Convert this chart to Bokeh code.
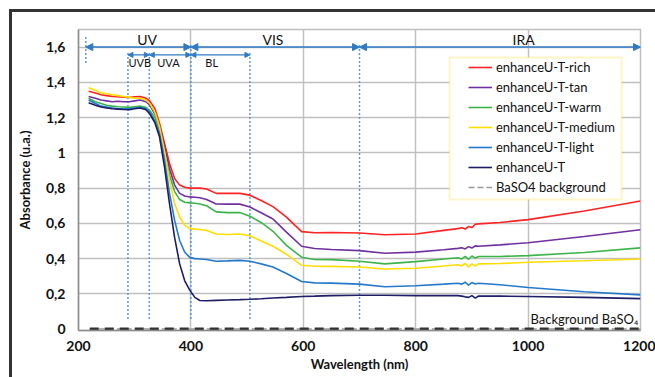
from bokeh.plotting import figure
from bokeh.models import (Range1d, FixedTicker, CustomJSTickFormatter, Legend, LegendItem,
                          Arrow, NormalHead, BoxAnnotation, Label)
from bokeh.embed import file_html
from bokeh.resources import INLINE

# ---------------- data ----------------
wavelength = [218, 230, 240, 250, 260, 270, 280, 290, 300, 310,
              320, 327, 336, 344, 353, 362, 371, 380, 389, 398,
              407, 416, 428, 445, 465, 487, 505, 525, 546, 570,
              597, 620, 650, 700, 745, 800, 850, 875, 882, 888,
              894, 900, 906, 912, 950, 1000, 1100, 1200]

rich = [1.35, 1.34, 1.33, 1.325, 1.32, 1.318, 1.316, 1.314, 1.318, 1.32,
        1.31, 1.293, 1.25, 1.17, 1.055, 0.94, 0.855, 0.817, 0.805, 0.80,
        0.80, 0.80, 0.795, 0.77, 0.77, 0.77, 0.76, 0.73, 0.695, 0.635,
        0.553, 0.547, 0.548, 0.545, 0.535, 0.54, 0.56, 0.57, 0.575, 0.568,
        0.582, 0.576, 0.595, 0.597, 0.605, 0.621, 0.67, 0.727]

tan = [1.32, 1.31, 1.30, 1.295, 1.29, 1.293, 1.29, 1.29, 1.295, 1.30,
       1.29, 1.27, 1.22, 1.15, 1.04, 0.91, 0.817, 0.77, 0.755, 0.75,
       0.748, 0.745, 0.735, 0.71, 0.709, 0.709, 0.693, 0.66, 0.625, 0.55,
       0.47, 0.457, 0.452, 0.445, 0.43, 0.437, 0.45, 0.458, 0.462, 0.455,
       0.468, 0.46, 0.472, 0.47, 0.478, 0.49, 0.525, 0.564]

warm = [1.31, 1.29, 1.28, 1.27, 1.265, 1.262, 1.26, 1.258, 1.262, 1.265,
        1.258, 1.24, 1.20, 1.13, 1.0, 0.874, 0.78, 0.735, 0.72, 0.716,
        0.714, 0.71, 0.70, 0.665, 0.661, 0.661, 0.64, 0.605, 0.555, 0.475,
        0.408, 0.395, 0.394, 0.385, 0.37, 0.383, 0.398, 0.405, 0.398, 0.413,
        0.396, 0.415, 0.403, 0.412, 0.412, 0.417, 0.435, 0.461]

medium = [1.37, 1.355, 1.34, 1.335, 1.33, 1.325, 1.32, 1.315, 1.31, 1.31,
          1.30, 1.28, 1.23, 1.15, 1.01, 0.845, 0.712, 0.636, 0.59, 0.57,
          0.567, 0.565, 0.56, 0.54, 0.537, 0.54, 0.53, 0.50, 0.47, 0.425,
          0.362, 0.357, 0.356, 0.352, 0.341, 0.345, 0.358, 0.365, 0.358, 0.373,
          0.352, 0.37, 0.358, 0.37, 0.372, 0.379, 0.388, 0.398]

light = [1.30, 1.28, 1.265, 1.26, 1.255, 1.25, 1.25, 1.25, 1.255, 1.258,
         1.25, 1.23, 1.18, 1.11, 0.96, 0.77, 0.617, 0.503, 0.436, 0.407,
         0.40, 0.398, 0.395, 0.385, 0.387, 0.39, 0.385, 0.37, 0.352, 0.315,
         0.27, 0.262, 0.261, 0.255, 0.24, 0.246, 0.255, 0.26, 0.255, 0.266,
         0.25, 0.264, 0.256, 0.26, 0.252, 0.236, 0.212, 0.194]

plain = [1.284, 1.27, 1.26, 1.255, 1.25, 1.248, 1.246, 1.245, 1.25, 1.255,
         1.245, 1.22, 1.17, 1.093, 0.92, 0.71, 0.52, 0.37, 0.274, 0.221,
         0.18, 0.162, 0.161, 0.163, 0.165, 0.167, 0.169, 0.172, 0.176, 0.18,
         0.185, 0.187, 0.19, 0.192, 0.192, 0.19, 0.19, 0.19, 0.187, 0.183,
         0.18, 0.19, 0.176, 0.188, 0.187, 0.185, 0.18, 0.173]

baso4_x = [220, 1200]
baso4_y = [0, 0]

series_names = ["enhanceU-T-rich", "enhanceU-T-tan", "enhanceU-T-warm",
                "enhanceU-T-medium", "enhanceU-T-light", "enhanceU-T"]
series_values = [rich, tan, warm, medium, light, plain]
series_colors = ["#FF2222", "#7030A0", "#3CB44B", "#FFDD00", "#2479CC", "#1E1E66"]

x_ticks = [200, 400, 600, 800, 1000, 1200]
y_ticks = [0, 0.2, 0.4, 0.6, 0.8, 1.0, 1.2, 1.4, 1.6]

region_names = ["UV", "VIS", "IRA"]
region_start = [213, 400, 700]
region_end = [400, 700, 1200]
region_label_x = [322, 546, 992]
region_y = 1.6
region_label_y = 1.645

sub_names = ["UVB", "UVA", "BL"]
sub_start = [288, 326, 400]
sub_end = [326, 400, 505]
sub_label_x = [309, 360, 437]
sub_y = 1.556
sub_label_y = 1.51

bound_x = [213, 288, 326, 400, 505, 700]
bound_top = [1.66, 1.575, 1.575, 1.62, 1.575, 1.62]
bound_bottom = [1.51, 0.057, 0.057, 0.057, 0.057, 0.057]

FONT = "Lato"
BLUE = "#2E7BC4"
DOT = "#5B9BD5"

p = figure(width=646, height=368, x_range=Range1d(200, 1200), y_range=Range1d(-0.008, 1.70),
           output_backend="svg", toolbar_location=None,
           min_border_left=66, min_border_right=18, min_border_top=17, min_border_bottom=50)
p.styles = {"border-left": "3px solid #333333", "border-top": "3px solid #333333",
            "margin-left": "9px", "margin-top": "9px"}
p.outline_line_color = "#BFBFBF"
p.outline_line_width = 1.5
p.background_fill_color = "white"
p.border_fill_color = "white"

p.xaxis.ticker = FixedTicker(ticks=x_ticks)
p.yaxis.ticker = FixedTicker(ticks=y_ticks)
p.yaxis.formatter = CustomJSTickFormatter(code="return (Math.round(tick*10)/10).toString().replace('.', ',');")
p.xgrid.ticker = FixedTicker(ticks=x_ticks[1:-1])
p.ygrid.ticker = FixedTicker(ticks=y_ticks[1:])
for g in (p.xgrid, p.ygrid):
    g.grid_line_color = "#C0C0C0"
    g.grid_line_width = 1.5

for ax in (p.xaxis, p.yaxis):
    ax.major_tick_line_color = None
    ax.minor_tick_line_color = None
    ax.major_tick_out = 0
    ax.major_tick_in = 0
    ax.minor_tick_out = 0
    ax.minor_tick_in = 0
    ax.axis_line_color = "#8C8C8C"
    ax.axis_line_width = 1.5
    ax.major_label_text_font = FONT
    ax.major_label_text_font_style = "bold"
    ax.major_label_text_font_size = "14px"
    ax.major_label_text_color = "#111111"
    ax.axis_label_text_font = FONT
    ax.axis_label_text_font_style = "bold"
    ax.axis_label_text_font_size = "13px"
    ax.axis_label_text_color = "#111111"

p.xaxis.axis_label = "Wavelength (nm)"
p.yaxis.axis_label = "Absorbance (u.a.)"
p.xaxis.major_label_standoff = 10
p.xaxis.axis_label_standoff = 2
p.yaxis.major_label_standoff = 13
p.yaxis.axis_label_standoff = 10

# region markers
p.segment(x0=bound_x, y0=bound_bottom, x1=bound_x, y1=bound_top,
          line_color=DOT, line_width=1.5, line_dash="2 2")

for name, a, b, lx in zip(region_names, region_start, region_end, region_label_x):
    p.add_layout(Arrow(start=NormalHead(size=7, fill_color=BLUE, line_color=BLUE),
                       end=NormalHead(size=7, fill_color=BLUE, line_color=BLUE),
                       x_start=a, x_end=b, y_start=region_y, y_end=region_y,
                       line_color=BLUE, line_width=1.5))
    p.add_layout(Label(x=lx, y=region_label_y, text=name, text_align="center",
                       text_baseline="middle", text_font=FONT, text_font_size="14px",
                       text_color="#111111"))

for name, a, b, lx in zip(sub_names, sub_start, sub_end, sub_label_x):
    p.add_layout(Arrow(start=NormalHead(size=5, fill_color=BLUE, line_color=BLUE),
                       end=NormalHead(size=5, fill_color=BLUE, line_color=BLUE),
                       x_start=a, x_end=b, y_start=sub_y, y_end=sub_y,
                       line_color=BLUE, line_width=1.2))
    p.add_layout(Label(x=lx, y=sub_label_y, text=name, text_align="center",
                       text_baseline="middle", text_font=FONT, text_font_size="11px",
                       text_color="#111111"))

# data lines
renderers = []
for name, vals, col in zip(series_names, series_values, series_colors):
    r = p.line(wavelength, vals, line_color=col, line_width=1.6)
    renderers.append((name, r))

proxy = p.line(baso4_x, baso4_y, line_color="#999999", line_width=1.5, line_dash="6 3")
p.line(baso4_x, baso4_y, line_color="#333333", line_width=3, line_dash="9 6")
renderers.append(("BaSO4 background", proxy))

p.add_layout(Label(x=1196, y=0.06, text="Background BaSO\u2084", text_align="right",
                   text_baseline="middle", text_font=FONT, text_font_size="13px",
                   text_color="#111111"))

# legend box
box = BoxAnnotation(left=371, right=543, top=273, bottom=131,
                    left_units="screen", right_units="screen",
                    top_units="screen", bottom_units="screen",
                    fill_color="white", fill_alpha=1.0,
                    line_color="#FFD940", line_width=2)
p.add_layout(box)

legend = Legend(items=[LegendItem(label=n, renderers=[r]) for n, r in renderers],
                location=(389, 132), margin=0, padding=1, spacing=0,
                label_height=20, glyph_height=20, glyph_width=24, label_standoff=4,
                border_line_alpha=0, background_fill_alpha=0,
                label_text_font=FONT, label_text_font_size="13px",
                label_text_color="#111111")
p.add_layout(legend, "center")

open("out.html", "w").write(file_html(p, INLINE))
